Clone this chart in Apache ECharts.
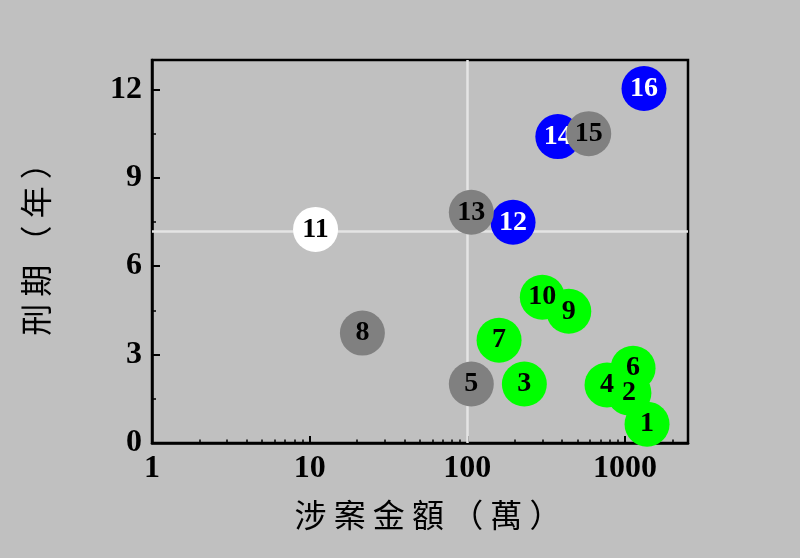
<!DOCTYPE html>
<html>
<head>
<meta charset="utf-8">
<script src="https://cdn.jsdelivr.net/npm/echarts@6/dist/echarts.min.js"></script>
<style>
html,body{margin:0;padding:0;background:#c0c0c0;}
#c{width:800px;height:558px;}
</style>
</head>
<body>
<div id="c"></div>
<script>
// ---- data ----
const caseIds   = ['1','2','3','4','5','6','7','8','9','10','11','12','13','14','15','16'];
const amounts   = [1380,1059,230,769,106,1125,159,21.6,440,299,10.9,195,106,375,589,1320]; // 萬
const sentences = [0.64,1.7,2.0,1.97,2.0,2.54,3.49,3.73,4.47,4.95,7.25,7.49,7.83,10.4,10.5,12.03]; // 年
const groups    = ['g','g','g','g','k','g','g','k','g','g','w','b','k','b','k','b'];
const xTickLabels = [1,10,100,1000];
const xMinorTicks = [2,3,4,5,6,7,8,9,20,30,40,50,60,70,80,90,200,300,400,500,600,700,800,900,2000];
const yTickLabels = [0,3,6,9,12];
const yMinorTicks = [1.5,4.5,7.5,10.5];
const refAmount = 100;
const refSentence = 7.2;

// ---- styles ----
const groupOrder = ['g','w','b','k'];
const fill = {g:'#00ff00', k:'#808080', b:'#0000ff', w:'#ffffff'};
const textCol = {g:'#000', k:'#000', b:'#fff', w:'#000'};
const numFont = "'Liberation Serif','Times New Roman',serif";
const cjkFont = "'Noto Sans CJK TC','Noto Sans CJK SC',sans-serif";

const chart = echarts.init(document.getElementById('c'));

const series = groupOrder.map((g, gi) => ({
  type: 'scatter',
  name: g,
  xAxisIndex: 0, yAxisIndex: 0,
  z: 10 + gi,
  symbol: 'circle',
  symbolSize: 45,
  data: caseIds.map((id, i) => ({value: [amounts[i], sentences[i]], name: id, g: groups[i]}))
               .filter(d => d.g === g)
               .map(d => ({value: d.value, name: d.name})),
  itemStyle: {color: fill[g], opacity: 1},
  label: {
    show: true, position: 'inside', formatter: p => p.name,
    color: textCol[g], fontFamily: numFont, fontWeight: 'bold', fontSize: 28
  },
  emphasis: {disabled: true}
}));

series.push({
  type: 'scatter', xAxisIndex: 0, yAxisIndex: 0, data: [], z: 1,
  markLine: {
    silent: true, symbol: 'none', animation: false,
    label: {show: false},
    lineStyle: {color: '#e4e4e4', width: 2.5, type: 'solid'},
    data: [{xAxis: refAmount}, {yAxis: refSentence}]
  }
});

chart.setOption({
  backgroundColor: '#c0c0c0',
  animation: false,
  grid: {left: 152, right: 112, top: 60, bottom: 115, show: true,
         borderColor: '#000', borderWidth: 2.5, backgroundColor: 'transparent'},
  xAxis: [{
    type: 'log', logBase: 10, min: 1, max: 2510,
    name: '涉 案 金 額 （ 萬 ）', nameLocation: 'middle', nameGap: 56,
    nameTextStyle: {fontFamily: cjkFont, fontSize: 32, color: '#000', padding: [0, 0, 0, 16]},
    axisLine: {show: true, lineStyle: {color: '#000', width: 2.5}},
    axisTick: {show: true, inside: true, length: 7, lineStyle: {color: '#000', width: 2}, customValues: xTickLabels},
    axisLabel: {color: '#000', fontFamily: numFont, fontWeight: 'bold', fontSize: 32, margin: 10,
                customValues: xTickLabels, formatter: v => String(Math.round(v))},
    splitLine: {show: false}, minorTick: {show: false}
  }, {
    type: 'log', logBase: 10, min: 1, max: 2510, position: 'bottom',
    axisLine: {show: false},
    axisTick: {show: true, inside: true, length: 3.5, lineStyle: {color: '#000', width: 1.5}, customValues: xMinorTicks},
    axisLabel: {show: false}, splitLine: {show: false}
  }],
  yAxis: [{
    type: 'value', min: 0, max: 13,
    name: '刑 期 （ 年 ）', nameLocation: 'middle', nameGap: 100,
    nameTextStyle: {fontFamily: cjkFont, fontSize: 32, color: '#000', padding: [0, 0, 0, 20]},
    axisLine: {show: true, lineStyle: {color: '#000', width: 2.5}},
    axisTick: {show: true, inside: true, length: 8, lineStyle: {color: '#000', width: 2}, customValues: yTickLabels},
    axisLabel: {color: '#000', fontFamily: numFont, fontWeight: 'bold', fontSize: 32, margin: 10, customValues: yTickLabels},
    splitLine: {show: false}
  }, {
    type: 'value', min: 0, max: 13, position: 'left', offset: 0,
    axisLine: {show: false},
    axisTick: {show: true, inside: true, length: 4, lineStyle: {color: '#000', width: 1.5}, customValues: yMinorTicks},
    axisLabel: {show: false}, splitLine: {show: false}
  }],
  series: series
});
</script>
</body>
</html>
